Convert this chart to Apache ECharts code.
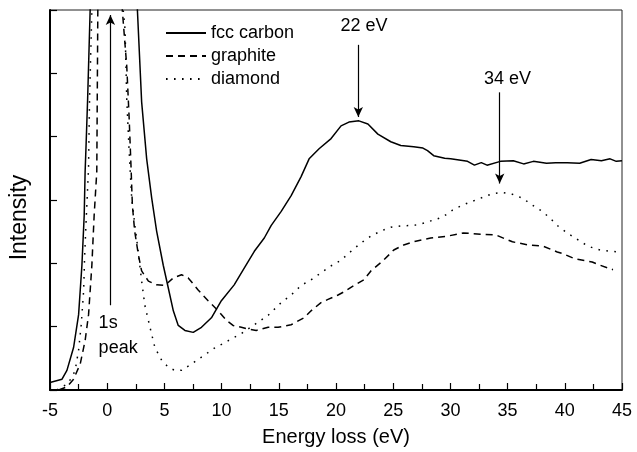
<!DOCTYPE html>
<html><head><meta charset="utf-8">
<script src="https://cdn.jsdelivr.net/npm/echarts@6/dist/echarts.min.js"></script>
<style>html,body{margin:0;padding:0;background:#fff}#c{width:637px;height:452px}</style>
</head><body><div id="c"></div>
<script>
// Series data [energy loss (eV), intensity (arb.)]
const fccCarbon = [[-5.0,0.12],[-3.95,0.17],[-3.52,0.31],[-2.94,0.67],[-2.5,1.19],[-2.21,1.97],[-2.01,2.76],[-1.93,3.45],[-1.84,3.9],[-1.71,4.6],[-1.6,5.3],[-1.49,6.0],[0.3,40],[2.64,6.0],[3.01,4.55],[3.45,3.65],[3.89,3.03],[4.32,2.51],[4.9,1.97],[5.34,1.61],[5.78,1.25],[6.21,1.02],[6.79,0.94],[7.52,0.91],[8.24,0.99],[9.11,1.14],[9.98,1.41],[11.1,1.66],[11.99,1.93],[12.86,2.19],[13.73,2.40],[14.34,2.60],[15.21,2.82],[16.08,3.07],[16.95,3.37],[17.65,3.65],[18.52,3.81],[19.57,3.97],[20.44,4.17],[21.13,4.23],[22.0,4.25],[22.79,4.20],[23.66,4.04],[24.79,3.92],[25.66,3.86],[26.79,3.84],[27.6,3.82],[28.0,3.78],[28.54,3.70],[29.5,3.66],[30.02,3.65],[31.5,3.61],[32.1,3.55],[32.7,3.59],[33.2,3.55],[34.37,3.61],[35.5,3.62],[36.4,3.57],[37.25,3.61],[38.4,3.58],[39.2,3.59],[40.21,3.59],[41.3,3.58],[42.3,3.64],[43.2,3.62],[43.96,3.65],[44.5,3.61],[45,3.62]];
const graphite = [[-4.24,0],[-3.52,0.05],[-2.94,0.17],[-2.36,0.41],[-1.93,0.78],[-1.63,1.19],[-1.34,1.97],[-1.14,2.76],[-0.91,3.45],[-0.82,6.0],[0.3,40],[1.32,6.0],[1.71,5.11],[1.91,4.33],[2.08,3.54],[2.2,2.92],[2.4,2.51],[2.73,2.13],[3.01,1.88],[3.6,1.72],[4.32,1.66],[5.04,1.65],[5.78,1.77],[6.5,1.82],[7.08,1.77],[7.95,1.58],[8.82,1.41],[9.7,1.25],[10.42,1.10],[11.0,1.02],[11.72,0.99],[12.33,0.96],[13.03,0.94],[14.07,0.99],[14.94,0.99],[16.07,1.03],[17.21,1.14],[17.82,1.25],[18.69,1.38],[19.3,1.43],[20.18,1.50],[20.7,1.55],[21.57,1.65],[22.44,1.74],[23.05,1.88],[24.1,2.04],[25.05,2.21],[25.92,2.29],[26.97,2.35],[28.28,2.40],[29.76,2.43],[31.15,2.48],[32.63,2.46],[33.94,2.45],[35.42,2.34],[36.81,2.29],[38.12,2.27],[39.34,2.18],[39.86,2.15],[40.9,2.07],[42.39,2.02],[43.08,1.97],[44.21,1.90]];
const diamond = [[-4.39,0],[-3.95,0.05],[-3.52,0.09],[-3.08,0.2],[-2.8,0.31],[-2.5,0.63],[-2.27,1.03],[-2.06,1.57],[-1.98,2.08],[-1.86,2.60],[-1.63,3.5],[-1.54,4.59],[-1.34,6.0],[0.3,40],[1.40,6.0],[1.56,5.69],[1.71,4.59],[1.91,3.81],[2.14,3.03],[2.4,2.63],[2.73,2.16],[3.01,1.72],[3.3,1.33],[3.74,0.99],[4.17,0.67],[4.76,0.47],[5.34,0.36],[5.91,0.31],[6.5,0.31],[7.37,0.41],[8.24,0.52],[9.37,0.66],[10.59,0.78],[11.72,0.89],[12.86,1.03],[14.07,1.18],[15.21,1.38],[16.08,1.50],[16.95,1.65],[17.82,1.74],[18.69,1.85],[19.57,1.96],[20.44,2.05],[21.31,2.19],[22.18,2.32],[23.05,2.43],[23.92,2.51],[24.79,2.57],[25.66,2.59],[26.79,2.60],[27.4,2.62],[28.45,2.68],[29.32,2.73],[30.19,2.84],[31.06,2.92],[31.93,2.98],[32.8,3.04],[33.68,3.10],[34.55,3.12],[35.42,3.09],[36.29,3.03],[37.16,2.92],[38.03,2.82],[38.73,2.71],[39.51,2.57],[40.47,2.45],[41.34,2.35],[42.03,2.27],[43.08,2.21],[43.96,2.19],[44.83,2.18]];
const seriesNames = ['fcc carbon','graphite','diamond'];
// Annotation arrows [from, to] in data coordinates
const arrows = [[[21.95,5.45],[21.95,4.31]],[[34.31,4.70],[34.31,3.26]],[[0.28,1.34],[0.28,5.92]]];
// Annotation texts [text, x, y, align]
const notes = [['22 eV',22.45,5.74,'center'],['34 eV',35.0,4.91,'center'],['1s',-0.75,1.05,'left'],['peak',-0.75,0.67,'left']];

const FONT = "'Liberation Sans', Arial, Helvetica, sans-serif";
const chart = echarts.init(document.getElementById('c'), null, {renderer:'canvas'});
const lineTypes = ['solid',[7,5],[1.6,6.4]];
const datasets = [fccCarbon, graphite, diamond];
const series = datasets.map((d,i)=>({
  name: seriesNames[i], type:'line', data:d, symbol:'none', clip:true,
  lineStyle:{color:'#000', width:1.5, type:lineTypes[i]}, itemStyle:{color:'#000'},
  animation:false
}));
series.push({
  type:'line', data:[], silent:true, animation:false,
  markLine:{silent:true, animation:false, symbol:['none','arrow'], symbolSize:[7,10],
    label:{show:false}, lineStyle:{color:'#000', width:1.2, type:'solid'},
    data: arrows.map(a=>[{coord:a[0]},{coord:a[1]}])}
});
chart.setOption({
  animation:false,
  textStyle:{fontFamily:FONT},
  grid:{left:48, right:15, top:10, bottom:59, show:true, borderColor:'#222', borderWidth:1},
  legend:{data:seriesNames, orient:'vertical', left:160, top:19, itemWidth:40, itemHeight:14, itemGap:5,
    itemStyle:{opacity:0, borderWidth:0},
    textStyle:{fontSize:18, color:'#000', fontFamily:FONT}, inactiveColor:'#000'},
  xAxis:{type:'value', min:-5, max:45, interval:5,
    name:'Energy loss (eV)', nameLocation:'middle', nameGap:37,
    nameTextStyle:{fontSize:20, color:'#000', fontFamily:FONT},
    axisLine:{onZero:false, lineStyle:{color:'#000', width:2}},
    axisTick:{inside:true, length:7, lineStyle:{color:'#000', width:1.2}},
    minorTick:{show:true, splitNumber:2, length:6, lineStyle:{color:'#000', width:1.2}},
    axisLabel:{fontSize:18, color:'#000', margin:12, fontFamily:FONT},
    splitLine:{show:false}},
  yAxis:{type:'value', min:0, max:6, interval:1,
    name:'Intensity', nameLocation:'middle', nameGap:19,
    nameTextStyle:{fontSize:23, color:'#000', fontFamily:FONT, padding:[0,35,0,0]},
    axisLine:{show:true, onZero:false, lineStyle:{color:'#000', width:2}},
    axisTick:{inside:true, length:7, lineStyle:{color:'#000', width:1.2}},
    axisLabel:{show:false}, splitLine:{show:false}},
  series: series
});
const g = notes.map(n=>{
  const p = chart.convertToPixel({gridIndex:0},[n[1],n[2]]);
  return {type:'text', x:p[0], y:p[1], silent:true,
    style:{text:n[0], fill:'#000', font:'18px '+FONT, textAlign:n[3], textVerticalAlign:'middle'}};
});
chart.setOption({graphic:g});
</script></body></html>
